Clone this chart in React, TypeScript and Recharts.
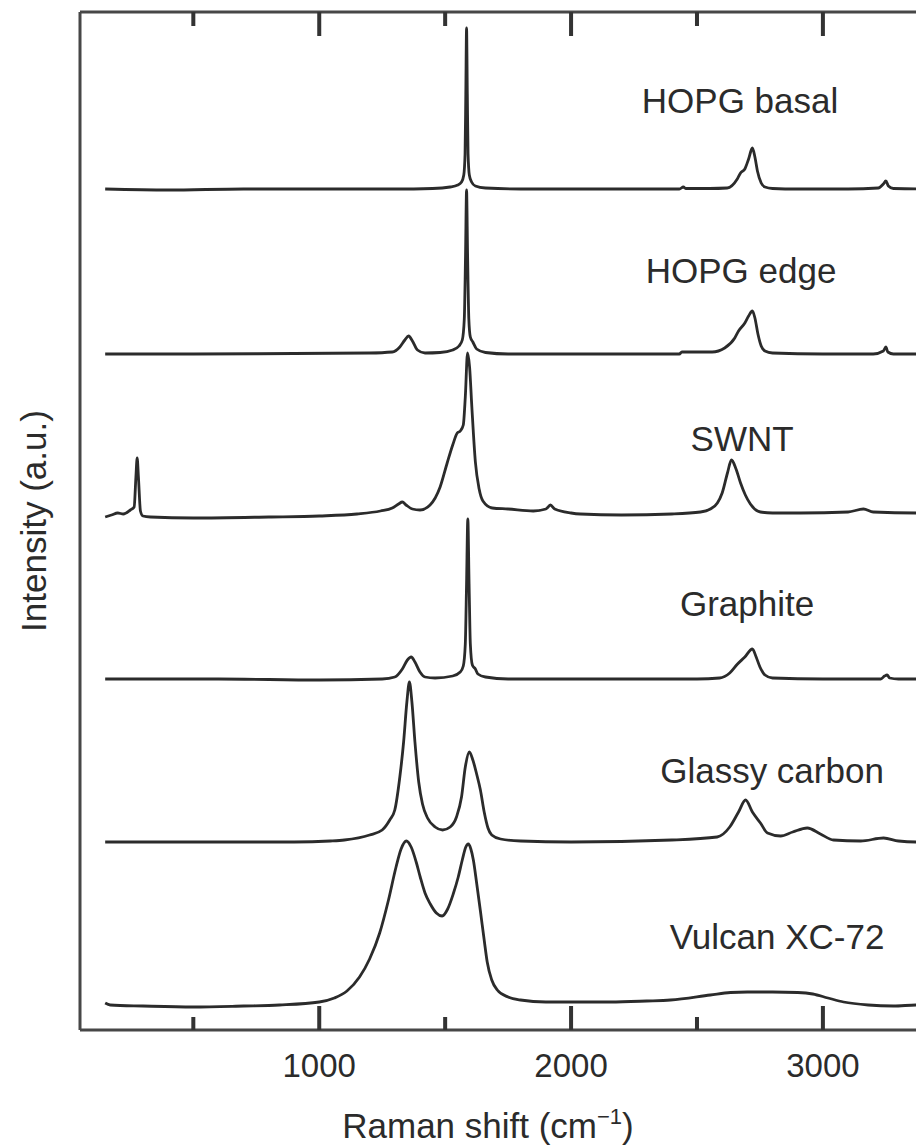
import React from 'react';
import { LineChart, Line, XAxis, YAxis, ReferenceDot } from 'recharts';

// Raman shift (cm^-1) vs. intensity (a.u., relative to each trace's own baseline)
const hopgBasal: [number, number][] = [
  [150, 0], [400, -1], [700, 0], [1000, 0], [1300, 0], [1450, 0.5], [1520, 2], [1550, 4], [1565, 7],
  [1574, 14], [1579, 35], [1582, 95], [1585, 161], [1588, 95], [1591, 35], [1596, 14], [1605, 7],
  [1620, 3], [1660, 1], [1800, 0], [2100, 0], [2430, 0], [2446, 2], [2455, 0.5], [2550, 0.5],
  [2620, 1], [2660, 10], [2673, 16], [2690, 20], [2705, 30], [2720, 41], [2730, 32], [2740, 18],
  [2755, 6], [2770, 2], [2800, 0.5], [2900, 0], [3100, 0], [3220, 1], [3240, 5], [3250, 8],
  [3260, 3], [3280, 0.5], [3400, 0], [3600, 0],
];

const hopgEdge: [number, number][] = [
  [150, 0], [500, 0], [900, 0.5], [1200, 1], [1290, 2], [1320, 7], [1340, 14], [1355, 18], [1370, 13],
  [1390, 4], [1420, 1], [1480, 1.5], [1530, 4], [1555, 8], [1568, 14], [1576, 35], [1581, 100],
  [1585, 164], [1589, 100], [1594, 35], [1600, 17], [1610, 12], [1625, 5], [1660, 1.5], [1750, 0],
  [2100, 0], [2430, 0], [2440, 2], [2560, 2], [2610, 6], [2650, 16], [2665, 23], [2690, 31],
  [2705, 38], [2720, 43], [2730, 36], [2742, 20], [2755, 8], [2770, 3], [2800, 1], [3000, 0],
  [3200, 0], [3240, 3], [3250, 7], [3258, 2], [3280, 0], [3600, 0],
];

const swnt: [number, number][] = [
  [150, 0], [175, 2], [200, 4], [222, 3], [250, 7], [265, 10], [272, 40], [277, 59], [282, 40],
  [290, 6], [300, 1], [330, 0], [500, -1], [800, 0], [1000, 1], [1150, 3], [1243, 6], [1290, 9],
  [1315, 13], [1330, 15], [1345, 12], [1370, 8], [1400, 7], [1440, 12], [1480, 30], [1508, 54],
  [1530, 72], [1548, 84], [1560, 86], [1572, 92], [1580, 120], [1589, 164], [1597, 150], [1606, 110],
  [1620, 55], [1635, 28], [1650, 16], [1687, 9], [1750, 8], [1850, 6], [1900, 8], [1918, 12],
  [1935, 8], [2000, 4], [2037, 3], [2200, 2], [2400, 3], [2514, 5], [2553, 8], [2581, 14],
  [2600, 24], [2621, 44], [2637, 57], [2655, 48], [2673, 34], [2692, 22], [2712, 13], [2752, 5],
  [2800, 4], [2911, 4], [3100, 5], [3161, 8], [3200, 5], [3373, 4], [3600, 4],
];

const graphite: [number, number][] = [
  [150, 0], [600, 0], [1000, -1], [1250, 0], [1300, 2], [1330, 10], [1350, 19], [1365, 22], [1380, 17],
  [1400, 7], [1420, 2], [1460, 1], [1530, 3], [1560, 7], [1572, 13], [1580, 35], [1585, 95],
  [1590, 160], [1595, 95], [1600, 35], [1608, 14], [1620, 10], [1630, 5], [1660, 2], [1750, 0],
  [2200, 0], [2500, 0], [2590, 1], [2630, 6], [2661, 15], [2690, 22], [2720, 30], [2735, 22],
  [2750, 12], [2770, 4], [2800, 1], [3000, 0], [3230, 0], [3245, 3], [3255, 4], [3265, 1],
  [3300, 0], [3600, 0],
];

const glassyCarbon: [number, number][] = [
  [150, 0], [500, 0], [900, 0], [1044, 1], [1100, 2], [1200, 7], [1250, 12], [1280, 22], [1300, 32],
  [1320, 65], [1335, 100], [1348, 140], [1358, 160], [1368, 140], [1380, 100], [1395, 60], [1410, 38],
  [1430, 24], [1460, 15], [1490, 12], [1520, 15], [1545, 25], [1565, 45], [1580, 75], [1596, 90],
  [1610, 82], [1625, 68], [1640, 52], [1655, 30], [1670, 14], [1685, 7], [1720, 3], [1800, 1],
  [2000, 0], [2400, 2], [2580, 5], [2630, 15], [2665, 30], [2693, 42], [2720, 30], [2752, 19],
  [2780, 9], [2832, 6], [2880, 10], [2938, 14], [2990, 8], [3042, 2], [3150, 1], [3241, 4],
  [3300, 1], [3373, 0], [3600, 0],
];

const vulcanXC72: [number, number][] = [
  [150, 2], [170, 0], [300, -1], [500, -2], [700, -1], [842, 0], [1000, 3], [1060, 7], [1110, 14],
  [1160, 28], [1200, 46], [1240, 72], [1275, 105], [1305, 138], [1325, 156], [1346, 164], [1365, 158],
  [1385, 143], [1401, 128], [1420, 112], [1441, 101], [1465, 92], [1488, 89], [1510, 96], [1532, 111],
  [1552, 128], [1568, 145], [1582, 158], [1592, 161], [1602, 156], [1612, 145], [1625, 122],
  [1640, 94], [1655, 65], [1667, 43], [1685, 25], [1707, 15], [1750, 8], [1799, 5], [1900, 3],
  [2037, 3], [2156, 3], [2300, 4], [2395, 5], [2553, 10], [2633, 12.5], [2700, 13], [2800, 13],
  [2900, 12.5], [2960, 11], [3020, 7], [3082, 3], [3180, 0], [3280, -1], [3373, 0], [3600, 0],
];

// vertical stacking offsets (a.u.)
const offsets = [841, 676, 513, 351, 188, 25];
const sampleNames = ['HOPG basal', 'HOPG edge', 'SWNT', 'Graphite', 'Glassy carbon', 'Vulcan XC-72'];
const spectra = [hopgBasal, hopgEdge, swnt, graphite, glassyCarbon, vulcanXC72];

const xTicks = [500, 1000, 1500, 2000, 2500, 3000, 3500];
const xDomain: [number, number] = [50, 3600];
const yDomain: [number, number] = [0, 1018];

const series = spectra.map((s, i) => s.map(([x, v]) => ({ x, y: v + offsets[i] })));

const INK = '#2b2b2b';
const FRAME = '#474747';
const TICK = '#333333';

const BottomTick = (props: any) => {
  const x = Number(props.x);
  const y = Number(props.y);
  const v = props.payload.value;
  const major = v % 1000 === 0;
  const len = major ? 24 : 13;
  return (
    <g>
      <rect x={x - 2} y={y - len} width={4} height={len} fill={TICK} />
      {major && (
        <text x={x} y={y + 47} textAnchor="middle" fontSize={33} fill={INK}>
          {v}
        </text>
      )}
    </g>
  );
};

const TopTick = (props: any) => {
  const x = Number(props.x);
  const y = Number(props.y);
  const major = props.payload.value % 1000 === 0;
  const len = major ? 24 : 14;
  return (
    <g>
      <rect x={x - 2} y={y} width={4} height={len} fill={TICK} />
    </g>
  );
};

const YTitle = (props: any) => {
  const vb = props.viewBox || { x: 0, y: 12, width: 80, height: 1018 };
  const cx = 33;
  const cy = Number(vb.y) + Number(vb.height) / 2;
  return (
    <text x={cx} y={cy} transform={`rotate(-90 ${cx} ${cy})`} textAnchor="middle" dominantBaseline="central" fontSize={35} fill={INK}>
      Intensity (a.u.)
    </text>
  );
};

const XTitle = () => {
  return (
    <text x={488} y={1138} textAnchor="middle" fontSize={35} fill={INK}>
      Raman shift (cm
      <tspan dy={-14} fontSize={22}>−1</tspan>
      <tspan dy={14}>)</tspan>
    </text>
  );
};

const labelPos: [number, number][] = [
  [2671, 929], [2675, 759], [2679, 591], [2699, 426], [2798, 259], [2818, 93],
];

export default function App() {
  return (
    <div
      style={{
        position: 'absolute', top: 0, left: 0, width: 916, height: 1148, overflow: 'hidden',
        background: '#fff', fontFamily: '"Liberation Sans", Arial, Helvetica, sans-serif',
      }}
    >
      <LineChart width={974} height={1148} margin={{ top: 0, right: 0, bottom: 0, left: 0 }}>
        <XAxis
          xAxisId="top" orientation="top" type="number" dataKey="x" domain={xDomain} ticks={xTicks}
          allowDataOverflow height={12} tickSize={0} tickMargin={0} tick={(p: any) => <TopTick {...p} />}
          axisLine={{ stroke: FRAME, strokeWidth: 3 }} tickLine={false} interval={0}
        />
        <XAxis
          type="number" dataKey="x" domain={xDomain} ticks={xTicks} allowDataOverflow height={118}
          tickSize={0} tickMargin={0} tick={(p: any) => <BottomTick {...p} />} tickLine={false} interval={0}
          axisLine={{ stroke: FRAME, strokeWidth: 3 }} label={() => <XTitle />}
        />
        <YAxis
          type="number" domain={yDomain} allowDataOverflow width={80} tick={false} tickLine={false}
          axisLine={{ stroke: FRAME, strokeWidth: 3 }} label={(p: any) => <YTitle {...p} />}
        />
        {series.map((d, i) => (
          <Line
            key={sampleNames[i]} data={d} dataKey="y" type="monotone" stroke={INK} strokeWidth={2.8}
            dot={false} activeDot={false} isAnimationActive={false} strokeLinejoin="round"
          />
        ))}
        {sampleNames.map((name, i) => (
          <ReferenceDot
            key={'l' + name} x={labelPos[i][0]} y={labelPos[i][1]} r={0} fill="none" stroke="none"
            ifOverflow="visible"
            label={{ value: name, position: 'center', fontSize: 35, fill: INK }}
          />
        ))}
      </LineChart>
    </div>
  );
}
